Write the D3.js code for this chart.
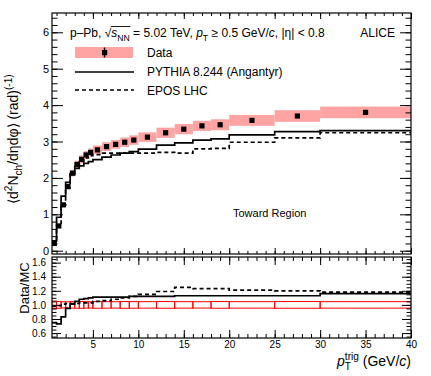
<!DOCTYPE html>
<meta charset="utf-8">
<style>
body { margin: 0; background: #fff; }
text { font-family: "Liberation Sans", Arial, sans-serif; fill: #000; white-space: pre; }
.axis path.domain { display: none; }
.axis line { stroke: #000; stroke-width: 1; }
.axis text { font-size: 11px; font-family: "Liberation Sans", Arial, sans-serif; }
</style>
<script src="https://cdn.jsdelivr.net/npm/d3@7"></script>
<body>
<script>

// bin edges in pT trig (GeV/c)
var binEdges = [0.5, 1, 1.5, 2, 2.5, 3, 3.5, 4, 4.5, 5, 6, 7, 8, 9, 10, 12, 14, 16, 18, 20, 25, 30, 40];

// ALICE data (one value per bin)
var dataVals = [0.20, 0.68, 1.26, 1.76, 2.13, 2.37, 2.51, 2.63, 2.70, 2.77, 2.86, 2.92, 2.98, 3.04, 3.12, 3.24, 3.34, 3.43, 3.46, 3.58, 3.70, 3.80];
var dataStat = [0.01, 0.01, 0.01, 0.01, 0.01, 0.01, 0.01, 0.01, 0.01, 0.01, 0.01, 0.01, 0.01, 0.01, 0.01, 0.01, 0.02, 0.02, 0.02, 0.02, 0.03, 0.05];
var dataSys  = [0.01, 0.03, 0.05, 0.07, 0.09, 0.10, 0.11, 0.11, 0.11, 0.12, 0.12, 0.12, 0.13, 0.13, 0.13, 0.14, 0.14, 0.14, 0.15, 0.15, 0.16, 0.16];

// models
var pythiaVals = [0.27, 0.92, 1.50, 1.88, 2.12, 2.26, 2.33, 2.40, 2.45, 2.50, 2.57, 2.63, 2.68, 2.72, 2.79, 2.90, 2.96, 3.04, 3.07, 3.18, 3.27, 3.30];
var eposVals   = [0.21, 0.69, 1.25, 1.73, 2.09, 2.32, 2.44, 2.55, 2.61, 2.64, 2.68, 2.68, 2.68, 2.68, 2.68, 2.70, 2.68, 2.80, 2.81, 2.98, 3.10, 3.24];

// Data/MC ratios
var pythiaRatio = [0.75, 0.73, 0.83, 0.95, 1.01, 1.05, 1.08, 1.09, 1.10, 1.11, 1.11, 1.11, 1.11, 1.12, 1.12, 1.12, 1.13, 1.13, 1.13, 1.13, 1.13, 1.16];
var eposRatio   = [0.98, 0.99, 1.01, 1.02, 1.02, 1.02, 1.03, 1.03, 1.03, 1.05, 1.06, 1.08, 1.10, 1.12, 1.15, 1.19, 1.25, 1.23, 1.23, 1.21, 1.20, 1.18];

var upperTicks = [0, 1, 2, 3, 4, 5, 6];
var lowerTicks = [0.6, 0.8, 1.0, 1.2, 1.4, 1.6];
var xTicks = [5, 10, 15, 20, 25, 30, 35, 40];

var width = 431, height = 376;
var svg = d3.select("body").append("svg")
    .attr("width", width)
    .attr("height", height);

var x = d3.scaleLinear().domain([0.5, 40]).range([52, 411]);
var yU = d3.scaleLinear().domain([-0.09, 6.53]).range([254, 13]);
var yL = d3.scaleLinear().domain([0.53, 1.68]).range([338, 257]);

var bins = dataVals.map(function(d, i) {
  return {lo: binEdges[i], hi: binEdges[i + 1], mid: (binEdges[i] + binEdges[i + 1]) / 2,
          v: d, stat: dataStat[i], sys: dataSys[i],
          py: pythiaVals[i], ep: eposVals[i], pyR: pythiaRatio[i], epR: eposRatio[i]};
});

// clip paths for the two frames
var defs = svg.append("defs");
defs.append("clipPath").attr("id", "clipU").append("rect")
    .attr("x", 52).attr("y", 13).attr("width", 359).attr("height", 241);
defs.append("clipPath").attr("id", "clipL").append("rect")
    .attr("x", 52).attr("y", 257).attr("width", 359).attr("height", 81);

function minorVals(lo, hi, step) {
  var out = [];
  for (var v = lo; v <= hi + 1e-9; v += step) out.push(+v.toFixed(3));
  return out;
}

// axes + frame for one panel
function drawAxes(yScale, yMajor, yMinorStep, yMaj, yMin, yPad, xMaj, xMin, showX, top, bottom, fmt) {
  var g = svg.append("g");
  var yMinor = minorVals(Math.ceil(yScale.domain()[0] / yMinorStep) * yMinorStep, yScale.domain()[1], yMinorStep);

  g.append("g").attr("class", "axis").attr("transform", "translate(52,0)")
    .call(d3.axisLeft(yScale).tickValues(yMajor).tickSize(-yMaj).tickPadding(yPad).tickFormat(fmt));
  g.append("g").attr("class", "axis").attr("transform", "translate(52,0)")
    .call(d3.axisLeft(yScale).tickValues(yMinor).tickSize(-yMin).tickFormat(""));
  g.append("g").attr("class", "axis").attr("transform", "translate(411,0)")
    .call(d3.axisRight(yScale).tickValues(yMajor).tickSize(-yMaj).tickFormat(""));
  g.append("g").attr("class", "axis").attr("transform", "translate(411,0)")
    .call(d3.axisRight(yScale).tickValues(yMinor).tickSize(-yMin).tickFormat(""));

  var xMinor = d3.range(1, 41);
  g.append("g").attr("class", "axis").attr("transform", "translate(0," + bottom + ")")
    .call(d3.axisBottom(x).tickValues(xTicks).tickSize(-xMaj).tickPadding(3)
      .tickFormat(showX ? d3.format("d") : ""));
  g.append("g").attr("class", "axis").attr("transform", "translate(0," + bottom + ")")
    .call(d3.axisBottom(x).tickValues(xMinor).tickSize(-xMin).tickFormat(""));
  g.append("g").attr("class", "axis").attr("transform", "translate(0," + top + ")")
    .call(d3.axisTop(x).tickValues(xTicks).tickSize(-xMaj).tickFormat(""));
  g.append("g").attr("class", "axis").attr("transform", "translate(0," + top + ")")
    .call(d3.axisTop(x).tickValues(xMinor).tickSize(-xMin).tickFormat(""));

  g.append("rect").attr("x", 52).attr("y", top).attr("width", 359).attr("height", bottom - top)
    .attr("fill", "none").attr("stroke", "#000").attr("stroke-width", 1.2);
  return g;
}

// ---------- upper panel ----------
var up = svg.append("g").attr("clip-path", "url(#clipU)");

up.selectAll("rect.sys").data(bins).enter().append("rect")
    .attr("class", "sys")
    .attr("x", function(d) { return x(d.lo); })
    .attr("width", function(d) { return x(d.hi) - x(d.lo); })
    .attr("y", function(d) { return yU(d.v + d.sys); })
    .attr("height", function(d) { return yU(d.v - d.sys) - yU(d.v + d.sys); })
    .attr("fill", "#ffa3a3");

function stepLine(xs, ys) {
  return d3.line().curve(d3.curveStepAfter)
    .x(function(d) { return xs(d.x); })
    .y(function(d) { return ys(d.y); });
}
function stepPts(key) {
  var pts = bins.map(function(d) { return {x: d.lo, y: d[key]}; });
  pts.push({x: binEdges[binEdges.length - 1], y: bins[bins.length - 1][key]});
  return pts;
}

up.append("path").datum(stepPts("py"))
    .attr("d", stepLine(x, yU)).attr("fill", "none").attr("stroke", "#000").attr("stroke-width", 1.7);
up.append("path").datum(stepPts("ep"))
    .attr("d", stepLine(x, yU)).attr("fill", "none").attr("stroke", "#000").attr("stroke-width", 1.7)
    .attr("stroke-dasharray", "4,3");

up.selectAll("line.stat").data(bins).enter().append("line")
    .attr("x1", function(d) { return x(d.mid); }).attr("x2", function(d) { return x(d.mid); })
    .attr("y1", function(d) { return yU(d.v - d.stat); }).attr("y2", function(d) { return yU(d.v + d.stat); })
    .attr("stroke", "#000").attr("stroke-width", 1.5);
up.selectAll("rect.pt").data(bins).enter().append("rect")
    .attr("x", function(d) { return x(d.mid) - 2.6; })
    .attr("y", function(d) { return yU(d.v) - 2.6; })
    .attr("width", 5.2).attr("height", 5.2).attr("fill", "#000");

drawAxes(yU, upperTicks, 0.2, 11, 5.5, 3, 6, 3, false, 13, 254, d3.format("d"));

// ---------- lower panel ----------
var lo = svg.append("g").attr("clip-path", "url(#clipL)");

lo.selectAll("rect.rsys").data(bins).enter().append("rect")
    .attr("x", function(d) { return x(d.lo); })
    .attr("width", function(d) { return x(d.hi) - x(d.lo); })
    .attr("y", function(d) { return yL(1 + d.sys / d.v * 1.1); })
    .attr("height", function(d) { return yL(1 - d.sys / d.v * 1.1) - yL(1 + d.sys / d.v * 1.1); })
    .attr("fill", "none").attr("stroke", "#f00").attr("stroke-width", 1);

lo.append("path").datum(stepPts("pyR"))
    .attr("d", stepLine(x, yL)).attr("fill", "none").attr("stroke", "#000").attr("stroke-width", 1.7);
lo.append("path").datum(stepPts("epR"))
    .attr("d", stepLine(x, yL)).attr("fill", "none").attr("stroke", "#000").attr("stroke-width", 1.7)
    .attr("stroke-dasharray", "4,3");

drawAxes(yL, lowerTicks, 0.05, 9, 4.5, 6, 8, 4, true, 257, 338, function(d) { return d.toFixed(1); })
  .selectAll(".axis text").style("font-size", "10px");

// ---------- rich text helper ----------
function rich(g, x0, y0, parts, size) {
  var cx = x0, stackW = 0, out = [];
  parts.forEach(function(p) {
    var small = p.sub || p.sup;
    var fs = small ? size * 0.72 : size;
    var dy = p.sub ? size * 0.32 : (p.sup ? -size * 0.45 : 0);
    var t = g.append("text").attr("x", cx).attr("y", y0 + dy)
        .attr("font-size", fs).text(p.t);
    if (p.i) t.attr("font-style", "italic");
    var w = t.node().getComputedTextLength();
    out.push({x0: cx, x1: cx + w});
    if (p.stack) { stackW = w; }
    else { cx += Math.max(w, stackW); stackW = 0; }
  });
  return {end: cx, parts: out};
}

// header
var hdr = svg.append("g");
var h = rich(hdr, 70, 37, [
  {t: "p\u2013Pb, "}, {t: "\u221A"}, {t: "s", i: true}, {t: "NN", sub: true},
  {t: " = 5.02 TeV, "}, {t: "p", i: true}, {t: "T", sub: true},
  {t: " \u2265 0.5 GeV/"}, {t: "c", i: true}, {t: ", |\u03B7| < 0.8"}
], 12);
hdr.append("line")
    .attr("x1", h.parts[1].x1 - 0.5).attr("x2", h.parts[3].x1 + 0.5)
    .attr("y1", 26.5).attr("y2", 26.5).attr("stroke", "#000").attr("stroke-width", 0.9);

svg.append("text").attr("x", 395).attr("y", 37).attr("text-anchor", "end")
    .attr("font-size", 12).text("ALICE");

// legend
var leg = svg.append("g");
leg.append("rect").attr("x", 75).attr("y", 47).attr("width", 58).attr("height", 11).attr("fill", "#ffa3a3");
leg.append("line").attr("x1", 104.5).attr("x2", 104.5).attr("y1", 47.5).attr("y2", 57.5)
    .attr("stroke", "#000").attr("stroke-width", 1.5);
leg.append("rect").attr("x", 102).attr("y", 50).attr("width", 5.2).attr("height", 5.2).attr("fill", "#000");
leg.append("text").attr("x", 147).attr("y", 57).attr("font-size", 12).text("Data");
leg.append("line").attr("x1", 75).attr("x2", 134).attr("y1", 72).attr("y2", 72)
    .attr("stroke", "#000").attr("stroke-width", 1.7);
leg.append("text").attr("x", 147).attr("y", 76).attr("font-size", 12).text("PYTHIA 8.244 (Angantyr)");
leg.append("line").attr("x1", 75).attr("x2", 134).attr("y1", 90).attr("y2", 90)
    .attr("stroke", "#000").attr("stroke-width", 1.7).attr("stroke-dasharray", "4,3");
leg.append("text").attr("x", 147).attr("y", 95).attr("font-size", 12).text("EPOS LHC");

svg.append("text").attr("x", 233).attr("y", 217).attr("font-size", 11).text("Toward Region");

// y titles
var yt = svg.append("g").attr("transform", "translate(18,204) rotate(-90)");
rich(yt, 0, 0, [
  {t: "\u27E8d"}, {t: "2", sup: true}, {t: "N"}, {t: "ch", sub: true},
  {t: "/d\u03B7d\u03C6\u27E9 (rad)"}, {t: "(-1)", sup: true}
], 14);

svg.append("text").attr("transform", "translate(29,288) rotate(-90)")
    .attr("text-anchor", "middle").attr("font-size", 13).text("Data/MC");

// x title
var xt = svg.append("g");
var xr = rich(xt, 0, 0, [
  {t: "p", i: true}, {t: "T", sub: true, stack: true}, {t: "trig", sup: true},
  {t: " (GeV/"}, {t: "c", i: true}, {t: ")"}
], 14);
xt.attr("transform", "translate(" + (411 - xr.end) + ",366)");

</script>
</body>
